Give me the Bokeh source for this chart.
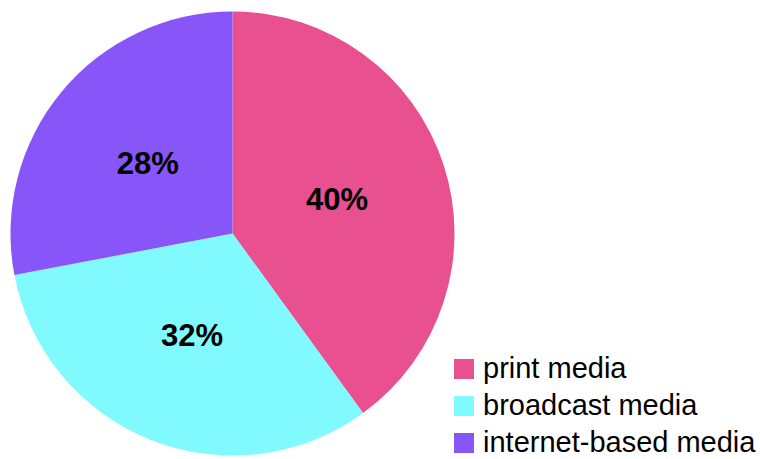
import math
from bokeh.plotting import figure
from bokeh.models import Range1d, Legend, LegendItem, ColumnDataSource
from bokeh.core.properties import value
from bokeh.embed import file_html
from bokeh.resources import INLINE

# ---- data ----
categories = ["print media", "broadcast media", "internet-based media"]
shares = [40, 32, 28]
colors = ["#E8508F", "#80FAFF", "#8856F8"]

# ---- style ----
W, H = 760, 459
CX, CY, R = 232, H - 233, 222
LABEL_R = 110

total = sum(shares)
starts, ends, lx, ly, texts = [], [], [], [], []
cum = 0.0
for i, v in enumerate(shares):
    a0 = cum / total * 2 * math.pi
    cum += v
    a1 = cum / total * 2 * math.pi
    # clockwise from 12 o'clock
    starts.append(math.pi / 2 - a1)
    ends.append(math.pi / 2 - a0)
    mid = (a0 + a1) / 2
    lx.append(CX + LABEL_R * math.sin(mid))
    ly.append(CY + LABEL_R * math.cos(mid))
    texts.append(f"{v}%")

src = ColumnDataSource(dict(cat=categories, val=shares, color=colors,
                            start=starts, end=ends))
lsrc = ColumnDataSource(dict(x=lx, y=ly, text=texts))

p = figure(width=W, height=H, output_backend="svg", toolbar_location=None,
           x_range=Range1d(0, W), y_range=Range1d(0, H),
           min_border=0, outline_line_color=None)
p.axis.visible = False
p.grid.visible = False
p.background_fill_color = "white"

r = p.wedge(x=CX, y=CY, radius=R, start_angle="start", end_angle="end",
            fill_color="color", line_color=None, source=src)

p.text(x="x", y="y", text="text", source=lsrc,
       text_font=value("Liberation Sans"), text_font_style="bold",
       text_font_size="31px", text_color="black",
       text_align="center", text_baseline="middle")

items = [LegendItem(label=c, renderers=[r], index=i) for i, c in enumerate(categories)]
legend = Legend(items=items, location=(451, 0),
                glyph_width=25, glyph_height=25, label_standoff=7,
                spacing=4, padding=3, margin=0,
                label_text_font="Liberation Sans", label_text_font_size="29px",
                label_text_color="black",
                border_line_color=None, background_fill_alpha=0)
p.add_layout(legend, "center")

open("out.html", "w").write(file_html(p, INLINE))
